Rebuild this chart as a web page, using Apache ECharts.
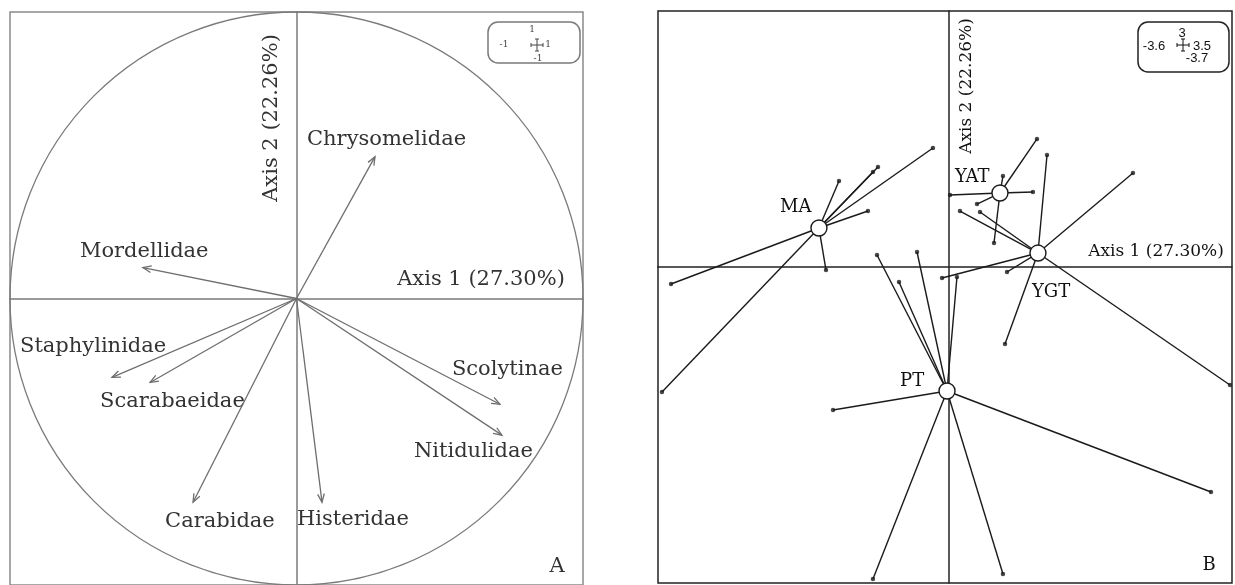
<!DOCTYPE html>
<html>
<head>
<meta charset="utf-8">
<style>
  html, body { margin: 0; padding: 0; background: #fff; }
  #chart { width: 1235px; height: 585px; }
</style>
<script src="https://cdn.jsdelivr.net/npm/echarts/dist/echarts.min.js"></script>
</head>
<body>
<div id="chart"></div>
<script>
// ---------- Panel A: correlation circle (family loadings) ----------
const families = ['Chrysomelidae', 'Mordellidae', 'Staphylinidae', 'Scarabaeidae',
                  'Carabidae', 'Histeridae', 'Scolytinae', 'Nitidulidae'];
const familyAxis1 = [0.274, -0.536, -0.644, -0.511, -0.361, 0.089, 0.710, 0.717];
const familyAxis2 = [0.495, 0.108, -0.275, -0.293, -0.711, -0.711, -0.369, -0.477];
const axisTitles = ['Axis 1 (27.30%)', 'Axis 2 (22.26%)'];
const rangeA1 = [-1, 1];
const rangeA2 = [-1, 1];

// ---------- Panel B: sample scores grouped by habitat ----------
const groups = ['MA', 'YAT', 'YGT', 'PT'];
const groupAxis1 = [-1.609, 0.630, 1.100, -0.025];
const groupAxis2 = [0.458, 0.868, 0.165, -1.451];
const samplesMA = [[-0.199, 1.395], [-0.879, 1.173], [-0.941, 1.114], [-1.361, 1.009],
                   [-1.003, 0.657], [-1.522, -0.034], [-3.439, -0.198], [-3.551, -1.463]];
const samplesYAT = [[1.088, 1.501], [0.667, 1.067], [1.038, 0.880], [0.012, 0.845],
                    [0.346, 0.739], [0.556, 0.283]];
const samplesYGT = [[1.212, 1.313], [2.275, 1.102], [0.135, 0.657], [0.383, 0.646],
                    [3.475, -1.381], [0.692, -0.900], [-0.087, -0.127], [0.717, -0.057]];
const samplesPT = [[-0.891, 0.142], [-0.619, -0.174], [-0.396, 0.177], [0.098, -0.116],
                   [-1.435, -1.673], [-0.941, -3.653], [0.667, -3.594], [3.240, -2.634]];
const rangeB1 = [-3.6, 3.5];
const rangeB2 = [-3.7, 3];
const panelTags = ['A', 'B'];

// ---------- layout ----------
// label offsets (px) from arrow tips, text left-aligned and vertically centred
const familyLabelOffset = [[-68, -17], [-63, -16], [-92, -31], [-50, 19],
                           [-28, 19], [-25, 17], [-48, -35], [-88, 16]];
// label offsets (px) from group centroids
const groupLabelOffset = [[-39, -21], [-45, -16], [-6, 39], [-47, -10]];

const serifA = '"DejaVu Serif", "Liberation Serif", serif';
const greyA = '#6e6e6e';

const sampleSets = [samplesMA, samplesYAT, samplesYGT, samplesPT];
const spokes = [];
const sampleDots = [];
sampleSets.forEach((set, g) => {
  set.forEach(p => {
    spokes.push([groupAxis1[g], groupAxis2[g], p[0], p[1]]);
    sampleDots.push([p[0], p[1]]);
  });
});

function hiddenAxis(gridIndex, range, lineColor, lineWidth) {
  return {
    type: 'value', gridIndex, min: range[0], max: range[1],
    axisLine: { show: true, onZero: true, lineStyle: { color: lineColor, width: lineWidth } },
    axisTick: { show: false }, axisLabel: { show: false }, splitLine: { show: false }
  };
}

function scaleBox(x, y, w, h, stroke, font, r1, r2, pos, textColor) {
  // small rounded key showing the axis extents
  const cx = pos.cross[0], cy = pos.cross[1], a = pos.arm;
  const t = (txt, px, py, align) => ({
    type: 'text', x: px, y: py,
    style: { text: String(txt), font, fill: textColor, align: align || 'center', verticalAlign: 'middle',
             textAlign: align || 'center', textVerticalAlign: 'middle' }
  });
  const ln = (x1, y1, x2, y2) => ({
    type: 'line', shape: { x1, y1, x2, y2 }, style: { stroke: textColor, lineWidth: 1 }
  });
  return [
    { type: 'rect', shape: { x, y, width: w, height: h, r: 10 },
      style: { fill: '#fff', stroke, lineWidth: 1.5 } },
    ln(cx, cy - a, cx, cy + a), ln(cx - a, cy, cx + a, cy),
    ln(cx - 2, cy - a, cx + 2, cy - a), ln(cx - 2, cy + a, cx + 2, cy + a),
    ln(cx - a, cy - 2, cx - a, cy + 2), ln(cx + a, cy - 2, cx + a, cy + 2),
    t(r2[1], pos.top[0], pos.top[1]),
    t(r1[0], pos.left[0], pos.left[1]),
    t(r1[1], pos.right[0], pos.right[1]),
    t(r2[0], pos.bottom[0], pos.bottom[1])
  ];
}

function plainText(txt, x, y, font, fill, rotation) {
  return {
    type: 'text', x, y, rotation: rotation || 0,
    style: { text: txt, font, fill, align: 'center', verticalAlign: 'middle',
             textAlign: 'center', textVerticalAlign: 'middle' }
  };
}

const chart = echarts.init(document.getElementById('chart'), null, { renderer: 'canvas' });

const option = {
  animation: false,
  backgroundColor: '#fff',
  grid: [
    { left: 10, top: 12, width: 573, height: 574, show: true, borderColor: '#8a8a8a', borderWidth: 1.5 },
    { left: 658, top: 11, width: 574, height: 572, show: true, borderColor: '#222', borderWidth: 1.5 }
  ],
  xAxis: [
    hiddenAxis(0, rangeA1, '#7a7a7a', 1.5),
    hiddenAxis(1, rangeB1, '#222', 1.5)
  ],
  yAxis: [
    hiddenAxis(0, rangeA2, '#7a7a7a', 1.5),
    hiddenAxis(1, rangeB2, '#222', 1.5)
  ],
  graphic: [
    plainText(axisTitles[0], 481, 280, '21px ' + serifA, '#333'),
    plainText(axisTitles[1], 272, 118, '21px ' + serifA, '#333', Math.PI / 2),
    plainText(panelTags[0], 557, 567, '21px ' + serifA, '#333'),
    plainText(axisTitles[0], 1156, 252, '17px ' + serifA, '#111'),
    plainText(axisTitles[1], 967, 86, '17px ' + serifA, '#111', Math.PI / 2),
    plainText(panelTags[1], 1209, 565, '18px ' + serifA, '#111'),
    ...scaleBox(488, 22, 92, 41, '#7a7a7a', '9px ' + serifA, rangeA1, rangeA2,
      { cross: [537, 45], arm: 6, top: [532, 30], left: [504, 45], right: [548, 45], bottom: [538, 59] }, '#444'),
    ...scaleBox(1138, 22, 91, 50, '#222', '13px "Liberation Sans", Arial, sans-serif', rangeB1, rangeB2,
      { cross: [1183, 45], arm: 6, top: [1182, 33], left: [1154, 46], right: [1202, 46], bottom: [1197, 58] }, '#111')
  ],
  series: [
    // unit correlation circle
    {
      type: 'custom', xAxisIndex: 0, yAxisIndex: 0, silent: true,
      data: [[0, 0, 1]],
      renderItem(params, api) {
        const c = api.coord([api.value(0), api.value(1)]);
        const s = api.size([api.value(2), api.value(2)]);
        return { type: 'circle', shape: { cx: c[0], cy: c[1], r: (s[0] + s[1]) / 2 },
                 style: { fill: 'none', stroke: '#7a7a7a', lineWidth: 1.3 } };
      }
    },
    // family loading arrows with names
    {
      type: 'custom', xAxisIndex: 0, yAxisIndex: 0, silent: true,
      data: families.map((f, i) => [familyAxis1[i], familyAxis2[i]]),
      renderItem(params, api) {
        const i = params.dataIndex;
        const o = api.coord([0, 0]);
        const tip = api.coord([api.value(0), api.value(1)]);
        const ang = Math.atan2(tip[1] - o[1], tip[0] - o[0]);
        const L = 9, w = 0.38;
        const h1 = [tip[0] - L * Math.cos(ang - w), tip[1] - L * Math.sin(ang - w)];
        const h2 = [tip[0] - L * Math.cos(ang + w), tip[1] - L * Math.sin(ang + w)];
        const off = familyLabelOffset[i];
        return {
          type: 'group',
          children: [
            { type: 'line', shape: { x1: o[0], y1: o[1], x2: tip[0], y2: tip[1] },
              style: { stroke: greyA, lineWidth: 1.3 } },
            { type: 'polyline', shape: { points: [h1, tip, h2] },
              style: { stroke: greyA, fill: 'none', lineWidth: 1.3 } },
            { type: 'text', x: tip[0] + off[0], y: tip[1] + off[1],
              style: { text: families[i], font: '21px ' + serifA, fill: '#333',
                       align: 'left', verticalAlign: 'middle',
                       textAlign: 'left', textVerticalAlign: 'middle' } }
          ]
        };
      }
    },
    // spokes from group centroids to samples
    {
      type: 'custom', xAxisIndex: 1, yAxisIndex: 1, silent: true,
      data: spokes,
      renderItem(params, api) {
        const a = api.coord([api.value(0), api.value(1)]);
        const b = api.coord([api.value(2), api.value(3)]);
        return { type: 'line', shape: { x1: a[0], y1: a[1], x2: b[0], y2: b[1] },
                 style: { stroke: '#1a1a1a', lineWidth: 1.4 } };
      }
    },
    // sample points
    {
      type: 'scatter', xAxisIndex: 1, yAxisIndex: 1, silent: true,
      data: sampleDots, symbol: 'circle', symbolSize: 4.5,
      itemStyle: { color: '#1a1a1a' }
    },
    // group centroids with names
    {
      type: 'custom', xAxisIndex: 1, yAxisIndex: 1, silent: true, z: 5,
      data: groups.map((g, i) => [groupAxis1[i], groupAxis2[i]]),
      renderItem(params, api) {
        const i = params.dataIndex;
        const c = api.coord([api.value(0), api.value(1)]);
        const off = groupLabelOffset[i];
        return {
          type: 'group',
          children: [
            { type: 'circle', shape: { cx: c[0], cy: c[1], r: 8 },
              style: { fill: '#fff', stroke: '#1a1a1a', lineWidth: 1.4 } },
            { type: 'text', x: c[0] + off[0], y: c[1] + off[1],
              style: { text: groups[i], font: '18px ' + serifA, fill: '#111',
                       align: 'left', verticalAlign: 'middle',
                       textAlign: 'left', textVerticalAlign: 'middle' } }
          ]
        };
      }
    }
  ]
};

chart.setOption(option);
</script>
</body>
</html>
